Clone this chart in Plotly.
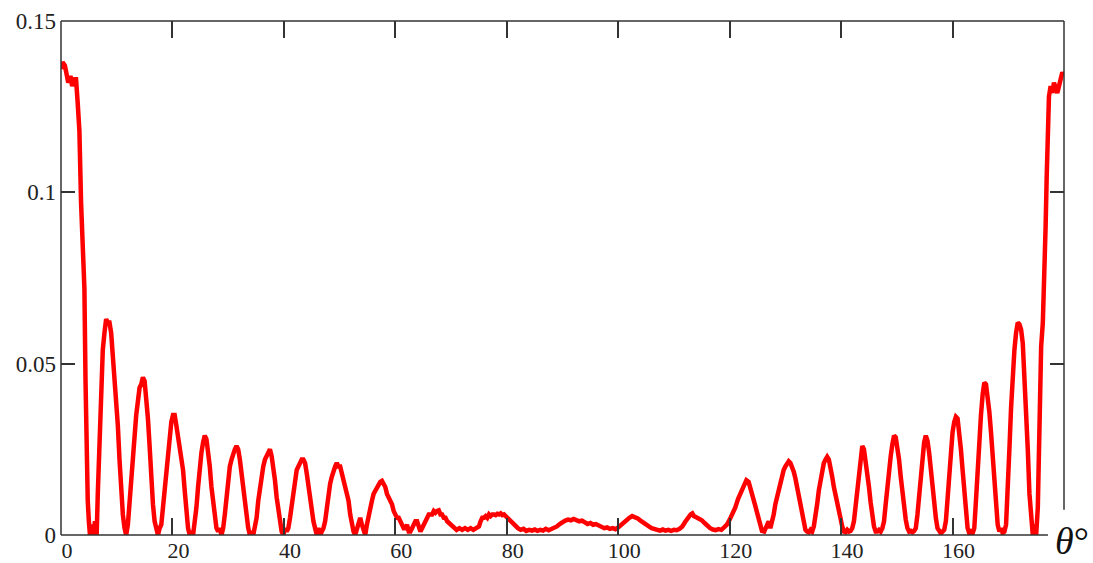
import plotly.graph_objects as go

# angle (degrees) and intensity
theta = [
    0.0, 0.3, 0.7, 1.0, 1.3, 1.7, 2.0, 2.3, 2.7, 3.0, 3.3, 3.6, 3.9, 4.2, 4.4, 4.6, 4.8, 5.0, 5.2, 5.5,
    5.8, 6.1, 6.4, 6.6, 6.9, 7.2, 7.5, 7.8, 8.1, 8.4, 8.7, 9.0, 9.3, 9.6, 9.9, 10.2, 10.5, 10.8, 11.1, 11.4,
    11.7, 12.0, 12.3, 12.6, 12.9, 13.2, 13.5, 13.8, 14.1, 14.4, 14.7, 15.0, 15.3, 15.6, 15.9, 16.2, 16.5, 16.8, 17.1, 17.4,
    17.7, 18.0, 18.3, 18.6, 18.9, 19.2, 19.5, 19.8, 20.1, 20.4, 20.7, 21.0, 21.3, 21.6, 21.9, 22.2, 22.5, 22.8, 23.1, 23.4,
    23.7, 24.0, 24.3, 24.6, 24.9, 25.2, 25.5, 25.8, 26.1, 26.4, 26.7, 27.0, 27.3, 27.6, 27.9, 28.2, 28.5, 28.8, 29.1, 29.4,
    29.7, 30.0, 30.3, 30.6, 30.9, 31.2, 31.5, 31.8, 32.1, 32.4, 32.7, 33.0, 33.3, 33.6, 33.9, 34.2, 34.5, 34.8, 35.1, 35.4,
    35.7, 36.0, 36.3, 36.6, 36.9, 37.2, 37.5, 37.8, 38.1, 38.4, 38.7, 39.0, 39.3, 39.6, 39.9, 40.2, 40.5, 40.8, 41.1, 41.4,
    41.7, 42.0, 42.3, 42.6, 42.9, 43.2, 43.5, 43.8, 44.1, 44.4, 44.7, 45.0, 45.3, 45.6, 45.9, 46.2, 46.5, 46.8, 47.1, 47.4,
    47.7, 48.0, 48.3, 48.6, 48.9, 49.2, 49.5, 49.8, 50.1, 50.4, 50.7, 51.0, 51.3, 51.6, 51.9, 52.2, 52.5, 52.8, 53.1, 53.4,
    53.7, 54.0, 54.3, 54.6, 54.9, 55.2, 55.5, 55.8, 56.1, 56.4, 56.7, 57.0, 57.3, 57.6, 57.9, 58.2, 58.5, 58.8, 59.1, 59.4,
    59.7, 60.0, 60.3, 60.6, 60.9, 61.2, 61.5, 61.8, 62.1, 62.4, 62.7, 63.0, 63.3, 63.6, 63.9, 64.2, 64.5, 64.8, 65.1, 65.4,
    65.7, 66.0, 66.3, 66.6, 66.9, 67.2, 67.5, 67.8, 68.1, 68.4, 68.7, 69.0, 69.3, 69.6, 69.9, 70.5, 71.0, 71.5, 72.0, 72.5,
    73.0, 73.5, 74.0, 74.5, 75.0, 75.3, 75.6, 75.9, 76.2, 76.5, 76.8, 77.1, 77.4, 77.7, 78.0, 78.3, 78.6, 78.9, 79.2, 79.5,
    79.8, 80.1, 80.4, 80.7, 81.0, 81.3, 81.6, 82.0, 82.5, 83.0, 83.5, 84.0, 84.5, 85.0, 85.5, 86.0, 86.5, 87.0, 87.5, 88.0,
    88.5, 89.0, 89.5, 90.0, 90.5, 91.0, 91.5, 92.0, 92.5, 93.0, 93.5, 94.0, 94.5, 95.0, 95.5, 96.0, 96.5, 97.0, 97.5, 98.0,
    98.5, 99.0, 99.5, 100.0, 100.5, 101.0, 101.5, 102.0, 102.5, 103.0, 103.5, 104.0, 104.5, 105.0, 105.5, 106.0, 106.5, 107.0, 107.5, 108.0,
    108.5, 109.0, 109.5, 110.0, 110.5, 111.0, 111.5, 112.0, 112.5, 113.0, 113.3, 113.6, 114.0, 114.5, 115.0, 115.5, 116.0, 116.5, 117.0, 117.5,
    118.0, 118.5, 119.0, 119.5, 120.0, 120.5, 121.0, 121.5, 122.0, 122.5, 123.0, 123.4, 123.8, 124.2, 124.6, 125.0, 125.4, 125.8, 126.2, 126.6,
    127.0, 127.3, 127.6, 127.9, 128.2, 128.5, 128.8, 129.1, 129.4, 129.7, 130.0, 130.3, 130.6, 130.9, 131.2, 131.5, 131.8, 132.1, 132.4, 132.7,
    133.0, 133.3, 133.6, 133.9, 134.2, 134.5, 134.8, 135.1, 135.4, 135.7, 136.0, 136.3, 136.6, 136.9, 137.2, 137.5, 137.8, 138.1, 138.4, 138.7,
    139.0, 139.3, 139.6, 139.9, 140.2, 140.5, 140.8, 141.1, 141.4, 141.7, 142.0, 142.3, 142.6, 142.9, 143.2, 143.5, 143.8, 144.1, 144.4, 144.7,
    145.0, 145.3, 145.6, 145.9, 146.2, 146.5, 146.8, 147.1, 147.4, 147.7, 148.0, 148.3, 148.6, 148.9, 149.2, 149.5, 149.8, 150.1, 150.4, 150.7,
    151.0, 151.3, 151.6, 151.9, 152.2, 152.5, 152.8, 153.1, 153.4, 153.7, 154.0, 154.3, 154.6, 154.9, 155.2, 155.5, 155.8, 156.1, 156.4, 156.7,
    157.0, 157.3, 157.6, 157.9, 158.2, 158.5, 158.8, 159.1, 159.4, 159.7, 160.0, 160.3, 160.6, 160.9, 161.2, 161.5, 161.8, 162.1, 162.4, 162.7,
    163.0, 163.3, 163.6, 163.9, 164.2, 164.5, 164.8, 165.1, 165.4, 165.7, 166.0, 166.3, 166.6, 166.9, 167.2, 167.5, 167.8, 168.1, 168.4, 168.7,
    169.0, 169.3, 169.6, 169.9, 170.2, 170.5, 170.8, 171.1, 171.4, 171.7, 172.0, 172.3, 172.6, 172.9, 173.2, 173.5, 173.8, 174.1, 174.4, 174.7,
    175.0, 175.3, 175.6, 175.9, 176.2, 176.5, 176.7, 176.9, 177.1, 177.3, 177.6, 177.9, 178.2, 178.5, 178.8, 179.1, 179.4, 179.7, 180.0,
]

intensity = [
    0.136, 0.138, 0.137, 0.135, 0.132, 0.134, 0.131, 0.133, 0.133, 0.126, 0.118, 0.097, 0.085, 0.072, 0.045, 0.020, 0.010, 0.004, 0.000, 0.003,
    0.000, 0.004, 0.000, 0.012, 0.028, 0.045, 0.054, 0.059, 0.063, 0.062, 0.062, 0.059, 0.053, 0.046, 0.040, 0.032, 0.022, 0.013, 0.006, 0.002,
    0.000, 0.003, 0.010, 0.018, 0.024, 0.030, 0.035, 0.039, 0.043, 0.044, 0.046, 0.045, 0.040, 0.034, 0.026, 0.016, 0.009, 0.004, 0.001, 0.000,
    0.002, 0.003, 0.008, 0.013, 0.018, 0.024, 0.029, 0.033, 0.035, 0.035, 0.032, 0.029, 0.026, 0.024, 0.019, 0.013, 0.007, 0.002, 0.000, 0.001,
    0.000, 0.003, 0.008, 0.014, 0.020, 0.024, 0.027, 0.029, 0.028, 0.025, 0.020, 0.014, 0.009, 0.005, 0.002, 0.001, 0.002, 0.000, 0.002, 0.006,
    0.011, 0.016, 0.020, 0.022, 0.024, 0.025, 0.026, 0.025, 0.022, 0.018, 0.013, 0.009, 0.005, 0.002, 0.000, 0.001, 0.000, 0.002, 0.005, 0.010,
    0.014, 0.018, 0.020, 0.022, 0.023, 0.024, 0.025, 0.023, 0.020, 0.016, 0.011, 0.007, 0.003, 0.001, 0.000, 0.002, 0.001, 0.002, 0.005, 0.009,
    0.013, 0.016, 0.019, 0.020, 0.021, 0.022, 0.022, 0.021, 0.018, 0.014, 0.010, 0.007, 0.004, 0.002, 0.000, 0.002, 0.000, 0.001, 0.002, 0.004,
    0.008, 0.012, 0.015, 0.017, 0.019, 0.020, 0.021, 0.020, 0.020, 0.018, 0.017, 0.015, 0.012, 0.010, 0.006, 0.003, 0.001, 0.000, 0.002, 0.004,
    0.005, 0.003, 0.001, 0.000, 0.003, 0.006, 0.008, 0.010, 0.012, 0.013, 0.014, 0.015, 0.0155, 0.0158, 0.015, 0.014, 0.012, 0.011, 0.010, 0.009,
    0.007, 0.006, 0.005, 0.005, 0.004, 0.003, 0.002, 0.002, 0.003, 0.001, 0.001, 0.002, 0.003, 0.004, 0.004, 0.002, 0.001, 0.002, 0.003, 0.004,
    0.005, 0.006, 0.006, 0.006, 0.007, 0.0065, 0.007, 0.0072, 0.006, 0.006, 0.005, 0.005, 0.004, 0.0035, 0.003, 0.002, 0.0015, 0.002, 0.0015, 0.002,
    0.0015, 0.002, 0.0015, 0.002, 0.0025, 0.004, 0.005, 0.005, 0.0055, 0.005, 0.006, 0.0055, 0.006, 0.006, 0.0058, 0.0062, 0.006, 0.0063, 0.0058, 0.006,
    0.0055, 0.005, 0.0048, 0.004, 0.0035, 0.003, 0.0025, 0.002, 0.0015, 0.0018, 0.0012, 0.0015, 0.0013, 0.0016, 0.0012, 0.0015, 0.0013, 0.0018, 0.0014, 0.0017,
    0.002, 0.0025, 0.0032, 0.0038, 0.0042, 0.0045, 0.0043, 0.0047, 0.0044, 0.004, 0.0042, 0.0037, 0.0032, 0.0035, 0.003, 0.0032, 0.0027, 0.0025, 0.002, 0.0022,
    0.0018, 0.002, 0.0017, 0.0022, 0.003, 0.0037, 0.0045, 0.005, 0.0055, 0.0052, 0.0048, 0.0042, 0.0035, 0.003, 0.0025, 0.002, 0.0018, 0.0015, 0.0013, 0.0016,
    0.0013, 0.0015, 0.0012, 0.0015, 0.0014, 0.0018, 0.0025, 0.0038, 0.005, 0.006, 0.0063, 0.0055, 0.0052, 0.0048, 0.0043, 0.0035, 0.0026, 0.002, 0.0016, 0.0014,
    0.0017, 0.0015, 0.0022, 0.003, 0.0045, 0.006, 0.008, 0.0105, 0.0125, 0.0145, 0.016, 0.0155, 0.0135, 0.011, 0.0085, 0.006, 0.003, 0.0012, 0.001, 0.0025,
    0.004, 0.002, 0.0035, 0.006, 0.009, 0.011, 0.014, 0.016, 0.0175, 0.019, 0.020, 0.021, 0.0215, 0.021, 0.020, 0.0185, 0.0165, 0.014, 0.0115, 0.008,
    0.005, 0.003, 0.0015, 0.001, 0.0008, 0.0015, 0.001, 0.0025, 0.005, 0.009, 0.013, 0.016, 0.019, 0.021, 0.022, 0.0228, 0.022, 0.020, 0.017, 0.014,
    0.0115, 0.009, 0.0065, 0.0045, 0.0025, 0.001, 0.0008, 0.0015, 0.001, 0.0012, 0.002, 0.004, 0.009, 0.014, 0.019, 0.023, 0.026, 0.025, 0.022, 0.019,
    0.014, 0.0095, 0.0055, 0.0025, 0.001, 0.001, 0.0015, 0.001, 0.002, 0.004, 0.009, 0.0145, 0.019, 0.023, 0.0265, 0.029, 0.0285, 0.026, 0.022, 0.017,
    0.012, 0.008, 0.0045, 0.002, 0.001, 0.0012, 0.0008, 0.0012, 0.002, 0.006, 0.012, 0.018, 0.0235, 0.027, 0.029, 0.0275, 0.024, 0.019, 0.013, 0.009,
    0.005, 0.002, 0.001, 0.0005, 0.001, 0.0015, 0.004, 0.011, 0.018, 0.025, 0.030, 0.033, 0.0345, 0.034, 0.030, 0.025, 0.019, 0.012, 0.006, 0.002,
    0.0005, 0.001, 0.0005, 0.002, 0.010, 0.020, 0.028, 0.035, 0.041, 0.0445, 0.044, 0.041, 0.036, 0.030, 0.023, 0.015, 0.008, 0.003, 0.001, 0.002,
    0.0005, 0.001, 0.003, 0.012, 0.025, 0.037, 0.047, 0.054, 0.059, 0.062, 0.0615, 0.060, 0.056, 0.047, 0.036, 0.025, 0.012, 0.004, 0.000, 0.003,
    0.000, 0.008, 0.040, 0.055, 0.062, 0.075, 0.090, 0.105, 0.122, 0.128, 0.131, 0.129, 0.132, 0.130, 0.129, 0.131, 0.133, 0.135, 0.134,
]

x_tick_vals = [0, 20, 40, 60, 80, 100, 120, 140, 160]
x_tick_text = ["0", "20", "40", "60", "80", "100", "120", "140", "160"]
y_tick_vals = [0, 0.05, 0.1, 0.15]
y_tick_text = ["0", "0.05", "0.1", "0.15"]

AX = "#333333"
FONT = "Liberation Serif"

fig = go.Figure()
fig.add_trace(go.Scatter(x=theta, y=intensity, mode="lines",
                         line=dict(color="#ff0000", width=4.5),
                         showlegend=False, hoverinfo="skip"))
# helper trace so the mirrored (top/right) tick axes exist
fig.add_trace(go.Scatter(x=[None], y=[None], xaxis="x2", yaxis="y2",
                         showlegend=False, hoverinfo="skip"))

fig.update_layout(
    width=1093, height=563,
    margin=dict(l=61, r=29, t=21, b=28, autoexpand=False),
    paper_bgcolor="white", plot_bgcolor="white",
    font=dict(family=FONT, size=22, color="#222222"),
    xaxis=dict(range=[0, 180], showgrid=False, zeroline=False, showline=False,
               automargin=False,
               ticks="inside", ticklen=17, tickwidth=1.5, tickcolor=AX,
               tickvals=x_tick_vals, ticktext=x_tick_text,
               tickfont=dict(family=FONT, size=22, color="#222222"),
               ticklabelshift=6, ticklabelstandoff=0),
    yaxis=dict(range=[0, 0.15], showgrid=False, zeroline=False, showline=False,
               automargin=False,
               ticks="inside", ticklen=14, tickwidth=1.5, tickcolor=AX,
               tickvals=y_tick_vals, ticktext=y_tick_text,
               tickfont=dict(family=FONT, size=23, color="#222222"),
               ticklabelstandoff=4),
    xaxis2=dict(range=[0, 180], overlaying="x", side="top", anchor="y",
                automargin=False,
                showgrid=False, zeroline=False, showline=False,
                ticks="inside", ticklen=17, tickwidth=1.5, tickcolor=AX,
                tickvals=x_tick_vals[1:], showticklabels=False),
    yaxis2=dict(range=[0, 0.15], overlaying="y", side="right", anchor="x",
                automargin=False,
                showgrid=False, zeroline=False, showline=False,
                ticks="inside", ticklen=14, tickwidth=1.5, tickcolor=AX,
                tickvals=y_tick_vals[1:], showticklabels=False),
    shapes=[
        dict(type="line", xref="paper", yref="paper", x0=0, x1=0, y0=0, y1=1,
             line=dict(color=AX, width=1.5), layer="above"),
        dict(type="line", xref="paper", yref="paper", x0=0, x1=1, y0=1, y1=1,
             line=dict(color=AX, width=1.5), layer="above"),
        dict(type="line", xref="paper", yref="paper", x0=1, x1=1, y0=0.049, y1=1,
             line=dict(color=AX, width=1.5), layer="above"),
        dict(type="line", xref="paper", yref="paper", x0=0, x1=0.984, y0=0, y1=0,
             line=dict(color=AX, width=1.5), layer="above"),
    ],
    annotations=[
        dict(text="<i>θ</i>°", xref="paper", yref="paper", x=1.0, y=0.0,
             xanchor="center", yanchor="middle", xshift=8, yshift=-6, showarrow=False,
             font=dict(family="Liberation Serif, DejaVu Serif, serif", size=38, color="#111111")),
    ],
)

fig.write_html("out.html")
